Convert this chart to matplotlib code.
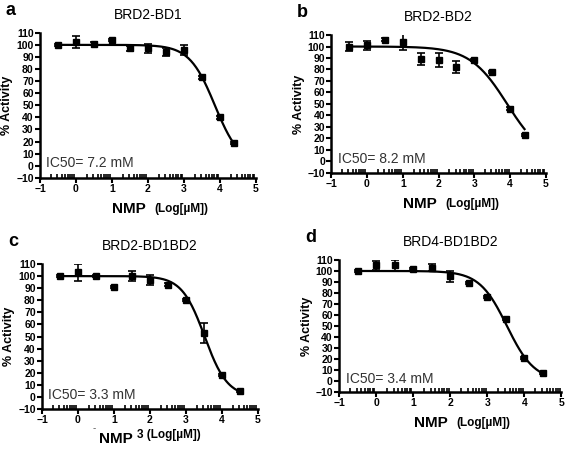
import numpy as np
import matplotlib
matplotlib.use("Agg")
import matplotlib.pyplot as plt

plt.rcParams['font.family'] = ['Liberation Sans', 'DejaVu Sans']

# Données : log[µM] et % activité pour chaque protéine
x_a = [-0.5, 0, 0.5, 1, 1.5, 2, 2.5, 3, 3.5, 4, 4.4]
y_a = [100, 102, 101, 104, 97, 97, 94, 96, 73, 40, 19]
e_a = [1, 5, 1, 1, 2, 4, 3, 4, 1, 1, 1]

x_b = [-0.5, 0, 0.5, 1, 1.5, 2, 2.5, 3, 3.5, 4, 4.4]
y_b = [100, 101, 106, 104, 89, 88, 82, 88, 78, 46, 23]
e_b = [4, 4, 1, 7, 5, 6, 5, 1, 1, 1, 1]

x_c = [-0.5, 0, 0.5, 1, 1.5, 2, 2.5, 3, 3.5, 4, 4.5]
y_c = [100, 103, 100, 91, 100, 97, 93, 80, 53, 18, 5]
e_c = [1, 7, 1, 1, 4, 4, 1, 1, 8, 1, 1]

x_d = [-0.5, 0, 0.5, 1, 1.5, 2, 2.5, 3, 3.5, 4, 4.5]
y_d = [100, 105, 105, 102, 103, 95, 89, 76, 56, 21, 7]
e_d = [1, 4, 5, 1, 3, 5, 1, 1, 1, 1, 1]

# Paramètres de l'ajustement sigmoïde (haut, bas, logIC50, pente)
fit_a = [100, 0, np.log10(7200), 1.23]
fit_b = [100, 0, np.log10(8200), 0.84]
fit_c = [100, 0, np.log10(3300), 1.37]
fit_d = [100, 0, np.log10(3400), 1.17]

titles = ['BRD2-BD1', 'BRD2-BD2', 'BRD2-BD1BD2', 'BRD4-BD1BD2']
letters = ['a', 'b', 'c', 'd']
ic50_labels = ['IC50= 7.2 mM', 'IC50= 8.2 mM', 'IC50= 3.3 mM', 'IC50= 3.4 mM']

panels = [(x_a, y_a, e_a, fit_a), (x_b, y_b, e_b, fit_b),
          (x_c, y_c, e_c, fit_c), (x_d, y_d, e_d, fit_d)]

# Positions des axes [gauche, bas, largeur, hauteur]
positions = [[0.0705, 0.604, 0.381, 0.323],
             [0.584, 0.615, 0.379, 0.307],
             [0.074, 0.089, 0.381, 0.323],
             [0.598, 0.127, 0.392, 0.294]]

fig = plt.figure(figsize=(5.67, 4.49), dpi=100)

minor = [k + np.log10(m) for k in range(-1, 5) for m in range(2, 10)]

for i, (x, y, e, fit) in enumerate(panels):
    ax = fig.add_axes(positions[i])
    top, bottom, logic50, hill = fit
    xs = np.linspace(min(x), max(x), 200)
    ys = bottom + (top - bottom) / (1 + 10 ** ((xs - logic50) * hill))
    ax.plot(xs, ys, color='black', lw=1.6)
    ax.errorbar(x, y, yerr=e, fmt='s', color='black', ms=5, capsize=3,
                elinewidth=1.2, capthick=1.2)
    ax.set_xlim(-1, 5)
    ax.set_ylim(-10, 110)
    ax.set_xticks(range(-1, 6))
    ax.set_xticks(minor, minor=True)
    ax.set_yticks(range(-10, 111, 10))
    for s in ['top', 'right']:
        ax.spines[s].set_visible(False)
    for s in ['left', 'bottom']:
        ax.spines[s].set_linewidth(1.8)
    ax.tick_params(which='major', width=1.5, length=3.5, labelsize=7.5, pad=1)
    ax.tick_params(which='minor', width=1.2, length=3, direction='in')
    for lab in ax.get_xticklabels() + ax.get_yticklabels():
        lab.set_fontweight('bold')
    ax.set_ylabel('% Activity', fontsize=9, fontweight='bold', labelpad=2)
    ax.set_title(titles[i], fontsize=10, pad=10)
    ax.text(0.03, 0.1, ic50_labels[i], transform=ax.transAxes,
            fontsize=10, color='#333333', va='center')
    pos = positions[i]
    fig.text(pos[0] - 0.06, pos[1] + pos[3] + 0.05, letters[i],
             fontsize=13, fontweight='bold', va='center')
    # Titre de l'axe x en deux parties
    if i == 2:
        ylab = 0.022
        fig.text(pos[0] + 0.42 * pos[2], ylab, 'NMP', fontsize=11,
                 fontweight='bold', ha='right', va='center')
        fig.text(pos[0] + 0.44 * pos[2], ylab + 0.01, '3 (Log[µM])',
                 fontsize=8.5, fontweight='bold', ha='left', va='center')
        fig.text(pos[0] + 0.24 * pos[2], ylab + 0.025, '-', fontsize=7,
                 ha='center', va='center', color='#555555')
    else:
        ylab = pos[1] - 0.07
        fig.text(pos[0] + 0.49 * pos[2], ylab, 'NMP', fontsize=11,
                 fontweight='bold', ha='right', va='center')
        fig.text(pos[0] + 0.53 * pos[2], ylab, '(Log[µM])',
                 fontsize=8.5, fontweight='bold', ha='left', va='center')

fig.savefig('out.png', dpi=100)
